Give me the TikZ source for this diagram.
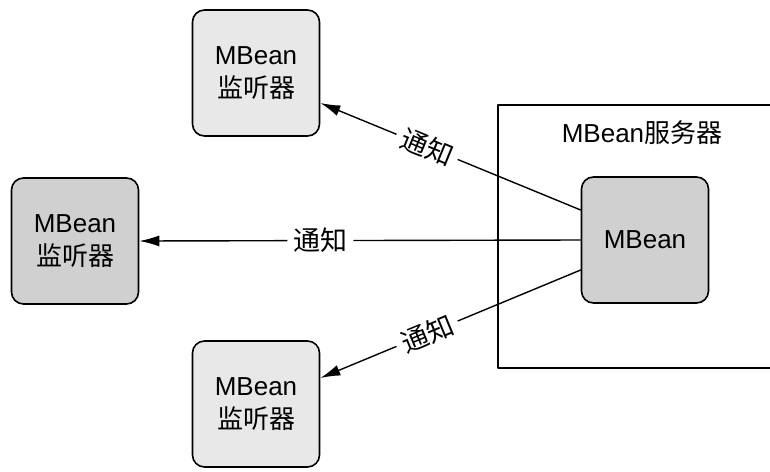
\documentclass[tikz,border=0pt]{standalone}
\usepackage{fontspec}
\setmainfont{Liberation Sans}
\newfontfamily\cjk{Noto Sans CJK SC}
\usetikzlibrary{arrows.meta}
\definecolor{lightbox}{RGB}{232,232,232}
\definecolor{darkbox}{RGB}{208,208,208}

\begin{document}
\begin{tikzpicture}[x=1pt, y=-1pt, line join=round, line cap=round,
	font=\fontsize{26}{33}\selectfont,
	box/.style={draw, line width=1.6pt, rounded corners=12pt, minimum width=127pt,
		minimum height=126pt, align=center, inner sep=0pt},
	notify/.style={line width=1.4pt, -{Latex[length=20pt,width=11pt]}},
	lbl/.style={fill=white, inner sep=6pt, sloped, pos=0.59, font=\fontsize{27}{30}\cjk}]
				\clip (0,0) rectangle (770,471);
				% server and its bean
				\node[draw, line width=1.6pt, minimum width=300pt, minimum height=263pt,
				anchor=north west, inner sep=0pt] (srv) at (497,104) {};
				\node (srvname) at (642,133) {MBean{\cjk 服务器}};
				\node[box, fill=darkbox] (bean) at (645,240) {MBean};
				% listeners
				\node[box, fill=lightbox] (lt) at (256,73) {MBean\\{\cjk 监听器}};
				\node[box, fill=darkbox] (ll) at (75,241) {MBean\\{\cjk 监听器}};
				\node[box, fill=lightbox] (lb) at (256,404) {MBean\\{\cjk 监听器}};
				% notifications
				\draw[notify] (bean.155) -- node[lbl]{通知} (lt.-25);
				\draw[notify] (bean.west) -- node[lbl]{通知} (ll.east);
				\draw[notify] (bean.205) -- node[lbl]{通知} (lb.22);
		\end{tikzpicture}
\end{document}
